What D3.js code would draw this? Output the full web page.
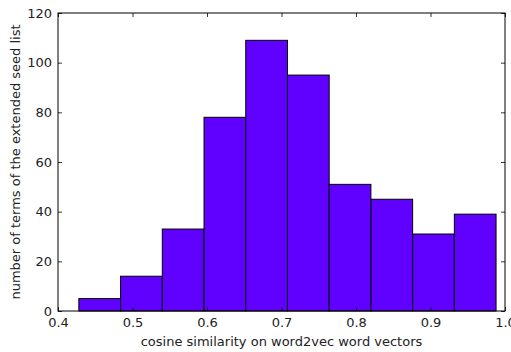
<!DOCTYPE html>
<html>
<head>
<meta charset="utf-8">
<script src="https://cdn.jsdelivr.net/npm/d3@7"></script>
<style>
  html, body { margin: 0; padding: 0; background: #fff; }
  svg { display: block; }
  text { font-family: "DejaVu Sans", sans-serif; fill: #222; }
</style>
</head>
<body>
<svg id="chart" width="511" height="352"></svg>
<script>
// Histogram bins (left edges) and counts
const binEdges = [0.428, 0.484, 0.540, 0.596, 0.652, 0.708, 0.764, 0.820, 0.876, 0.932, 0.988];
const counts = [5, 14, 33, 78, 109, 95, 51, 45, 31, 39];
const xTicks = [0.4, 0.5, 0.6, 0.7, 0.8, 0.9, 1.0];
const yTicks = [0, 20, 40, 60, 80, 100, 120];
const xLabel = "cosine similarity on word2vec word vectors";
const yLabel = "number of terms of the extended seed list";

const svg = d3.select("#chart");
const m = { left: 58, right: 6, top: 13, bottom: 41 };
const W = 511, H = 352;
const x = d3.scaleLinear().domain([0.4, 1.0]).range([m.left, W - m.right]);
const y = d3.scaleLinear().domain([0, 120]).range([H - m.bottom, m.top]);

const bins = counts.map((c, i) => ({ x0: binEdges[i], x1: binEdges[i + 1], c }));

svg.append("g").selectAll("rect").data(bins).join("rect")
  .attr("x", d => x(d.x0))
  .attr("y", d => y(d.c))
  .attr("width", d => x(d.x1) - x(d.x0))
  .attr("height", d => y(0) - y(d.c))
  .attr("fill", "#6000ff")
  .attr("stroke", "#000")
  .attr("stroke-width", 1);

const fmtX = d3.format(".1f");
const tickLen = 4;

// bottom axis
const xb = svg.append("g").attr("transform", `translate(0,${y(0)})`)
  .call(d3.axisBottom(x).tickValues(xTicks).tickFormat(fmtX).tickSizeInner(-tickLen).tickSizeOuter(0).tickPadding(7));
// top axis
const xt = svg.append("g").attr("transform", `translate(0,${y(120)})`)
  .call(d3.axisTop(x).tickValues(xTicks).tickFormat("").tickSizeInner(-tickLen).tickSizeOuter(0));
// left axis
const yl = svg.append("g").attr("transform", `translate(${x(0.4)},0)`)
  .call(d3.axisLeft(y).tickValues(yTicks).tickSizeInner(-tickLen).tickSizeOuter(0).tickPadding(6));
// right axis
const yr = svg.append("g").attr("transform", `translate(${x(1.0)},0)`)
  .call(d3.axisRight(y).tickValues(yTicks).tickFormat("").tickSizeInner(-tickLen).tickSizeOuter(0));

[xb, xt, yl, yr].forEach(g => {
  g.select(".domain").remove();
  g.selectAll(".tick line").attr("stroke", "#000").attr("stroke-width", 0.8);
  g.selectAll("text").attr("font-size", 13).attr("fill", "#222").attr("font-family", "DejaVu Sans, sans-serif");
});

// frame
svg.append("rect")
  .attr("x", x(0.4)).attr("y", y(120))
  .attr("width", x(1.0) - x(0.4)).attr("height", y(0) - y(120))
  .attr("fill", "none").attr("stroke", "#000").attr("stroke-width", 1);

svg.append("text")
  .attr("x", (x(0.4) + x(1.0)) / 2).attr("y", 346)
  .attr("text-anchor", "middle").attr("font-size", 13)
  .text(xLabel);

svg.append("text")
  .attr("transform", `translate(20,${(y(0) + y(120)) / 2}) rotate(-90)`)
  .attr("text-anchor", "middle").attr("font-size", 13)
  .text(yLabel);
</script>
</body>
</html>
